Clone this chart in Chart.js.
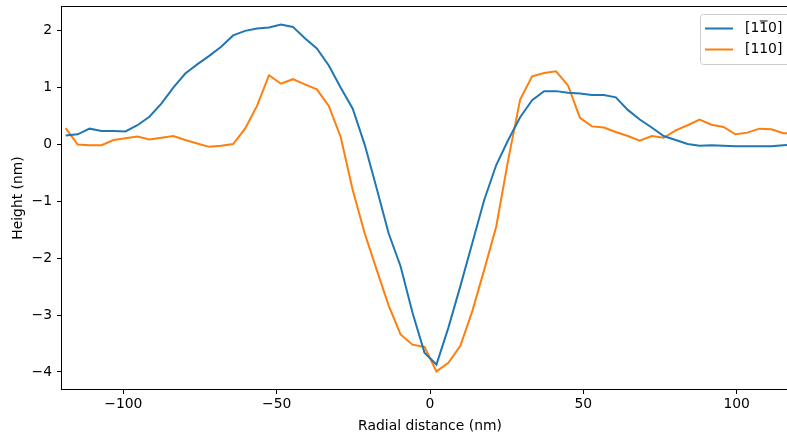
<!DOCTYPE html>
<html>
<head>
<meta charset="utf-8">
<script src="https://cdn.jsdelivr.net/npm/chart.js@4.4.1/dist/chart.umd.min.js"></script>
<style>
  html, body { margin: 0; padding: 0; overflow: hidden; background: #fff; }
  #chart { display: block; }
</style>
</head>
<body>
<canvas id="chart" width="800" height="437"></canvas>
<script>
// Dados (nm)
const distance = [
  -118.8, -114.9, -111.0, -107.1, -103.2, -99.3, -95.4, -91.5, -87.6, -83.7,
  -79.8, -75.9, -72.0, -68.1, -64.2, -60.3, -56.4, -52.5, -48.6, -44.7,
  -40.8, -36.9, -33.0, -29.1, -25.2, -21.3, -17.4, -13.5, -9.6, -5.7,
  -1.8, 2.1, 6.0, 9.9, 13.8, 17.7, 21.6, 25.5, 29.4, 33.3,
  37.2, 41.1, 45.0, 48.9, 52.8, 56.7, 60.6, 64.5, 68.4, 72.3,
  76.2, 80.1, 84.0, 87.9, 91.8, 95.7, 99.6, 103.5, 107.4, 111.3,
  115.2, 119.1
];
const height1m10 = [
  0.16, 0.18, 0.28, 0.24, 0.24, 0.23, 0.34, 0.49, 0.72, 1.00,
  1.25, 1.41, 1.56, 1.72, 1.92, 2.00, 2.04, 2.06, 2.11, 2.07,
  1.87, 1.69, 1.39, 1.00, 0.63, 0.00, -0.77, -1.56, -2.14, -2.96,
  -3.66, -3.87, -3.22, -2.49, -1.73, -0.97, -0.36, 0.08, 0.48, 0.78,
  0.94, 0.94, 0.91, 0.90, 0.87, 0.87, 0.83, 0.61, 0.44, 0.30,
  0.15, 0.08, 0.01, -0.02, -0.01, -0.02, -0.03, -0.03, -0.03, -0.03,
  -0.01, 0.00
];
const height110 = [
  0.29, 0.00, -0.01, -0.01, 0.08, 0.11, 0.14, 0.09, 0.12, 0.15,
  0.08, 0.02, -0.04, -0.02, 0.01, 0.28, 0.68, 1.22, 1.07, 1.15,
  1.06, 0.97, 0.68, 0.13, -0.80, -1.56, -2.20, -2.83, -3.34, -3.52,
  -3.56, -3.99, -3.84, -3.54, -2.93, -2.20, -1.44, -0.27, 0.79, 1.20,
  1.26, 1.29, 1.04, 0.47, 0.32, 0.30, 0.22, 0.15, 0.07, 0.15,
  0.12, 0.25, 0.34, 0.44, 0.35, 0.31, 0.18, 0.21, 0.28, 0.27,
  0.20, 0.20
];
// U+0305 = traço em cima do "1"
const seriesLabels = ['[11\u03050]', '[110]'];
const seriesColors = ['#1f77b4', '#ff7f0e'];
const xTicks = [-100, -50, 0, 50, 100];
const yTicks = [-4, -3, -2, -1, 0, 1, 2];
const xTitle = 'Radial distance (nm)';
const yTitle = 'Height (nm)';

const FONT = { family: 'DejaVu Sans', size: 13.9 };
const fmt = v => String(v).replace('-', '\u2212');

function toPoints(ys) {
  return distance.map((x, i) => ({ x: x, y: ys[i] }));
}

// Moldura dos eixos + legenda dentro da área do gráfico
const frameAndLegend = {
  id: 'frameAndLegend',
  afterDraw(chart) {
    const { ctx, chartArea: a } = chart;
    ctx.save();
    ctx.strokeStyle = '#000';
    ctx.lineWidth = 1;
    ctx.strokeRect(Math.round(a.left) - 0.5, Math.round(a.top) - 0.5,
      Math.round(a.right - a.left) + 1, Math.round(a.bottom - a.top) + 1);

    // legenda
    const right = a.right - 7;
    const left = right - 91;
    const top = a.top + 7;
    const h = 50;
    ctx.beginPath();
    ctx.roundRect(left + 0.5, top + 0.5, right - left, h, 3);
    ctx.fillStyle = 'rgba(255,255,255,0.8)';
    ctx.fill();
    ctx.strokeStyle = '#cccccc';
    ctx.stroke();

    ctx.font = FONT.size + 'px "DejaVu Sans"';
    ctx.textBaseline = 'middle';
    ctx.textAlign = 'left';
    seriesLabels.forEach((label, i) => {
      const cy = top + 14.5 + i * 21;
      ctx.strokeStyle = seriesColors[i];
      ctx.lineWidth = 2;
      ctx.beginPath();
      ctx.moveTo(left + 5, cy);
      ctx.lineTo(left + 33, cy);
      ctx.stroke();

      let tx = left + 45;
      const chars = Array.from(label);
      ctx.fillStyle = '#000';
      for (let j = 0; j < chars.length; j++) {
        if (chars[j] === '\u0305') continue;
        const w = ctx.measureText(chars[j]).width;
        ctx.fillText(chars[j], tx, cy);
        if (chars[j + 1] === '\u0305') {
          ctx.fillRect(tx + 0.5, cy - 8, w - 1, 1);
        }
        tx += w;
      }
    });
    ctx.restore();
  }
};

new Chart(document.getElementById('chart'), {
  type: 'line',
  data: {
    datasets: [
      { label: seriesLabels[0], data: toPoints(height1m10) },
      { label: seriesLabels[1], data: toPoints(height110) }
    ].map((d, i) => Object.assign(d, {
      borderColor: seriesColors[i],
      backgroundColor: seriesColors[i],
      borderWidth: 2,
      pointRadius: 0,
      tension: 0,
      fill: false
    }))
  },
  options: {
    responsive: false,
    animation: false,
    layout: { padding: { left: 0, top: 7, right: 2, bottom: 0 } },
    plugins: {
      legend: { display: false },
      tooltip: { enabled: false }
    },
    scales: {
      x: {
        type: 'linear',
        min: -120,
        max: 120,
        afterBuildTicks: s => { s.ticks = xTicks.map(v => ({ value: v })); },
        afterFit: s => { s.height = 48; s.paddingLeft = 0; s.paddingRight = 0; },
        border: { display: false },
        grid: { drawOnChartArea: false, drawTicks: true, tickLength: 5, tickColor: '#000', tickWidth: 1 },
        ticks: { color: '#000', font: FONT, padding: 2, maxRotation: 0, callback: fmt },
        title: { display: true, text: xTitle, color: '#000', font: FONT, padding: { top: 0, bottom: 2 } }
      },
      y: {
        type: 'linear',
        min: -4.30,
        max: 2.42,
        afterBuildTicks: s => { s.ticks = yTicks.map(v => ({ value: v })); },
        afterFit: s => { s.width = 62; s.paddingTop = 0; s.paddingBottom = 0; },
        border: { display: false },
        grid: { drawOnChartArea: false, drawTicks: true, tickLength: 5, tickColor: '#000', tickWidth: 1 },
        ticks: { color: '#000', font: FONT, padding: 5, callback: fmt },
        title: { display: true, text: yTitle, color: '#000', font: FONT, padding: { top: 10, bottom: 0 } }
      }
    }
  },
  plugins: [frameAndLegend]
});
</script>
</body>
</html>
